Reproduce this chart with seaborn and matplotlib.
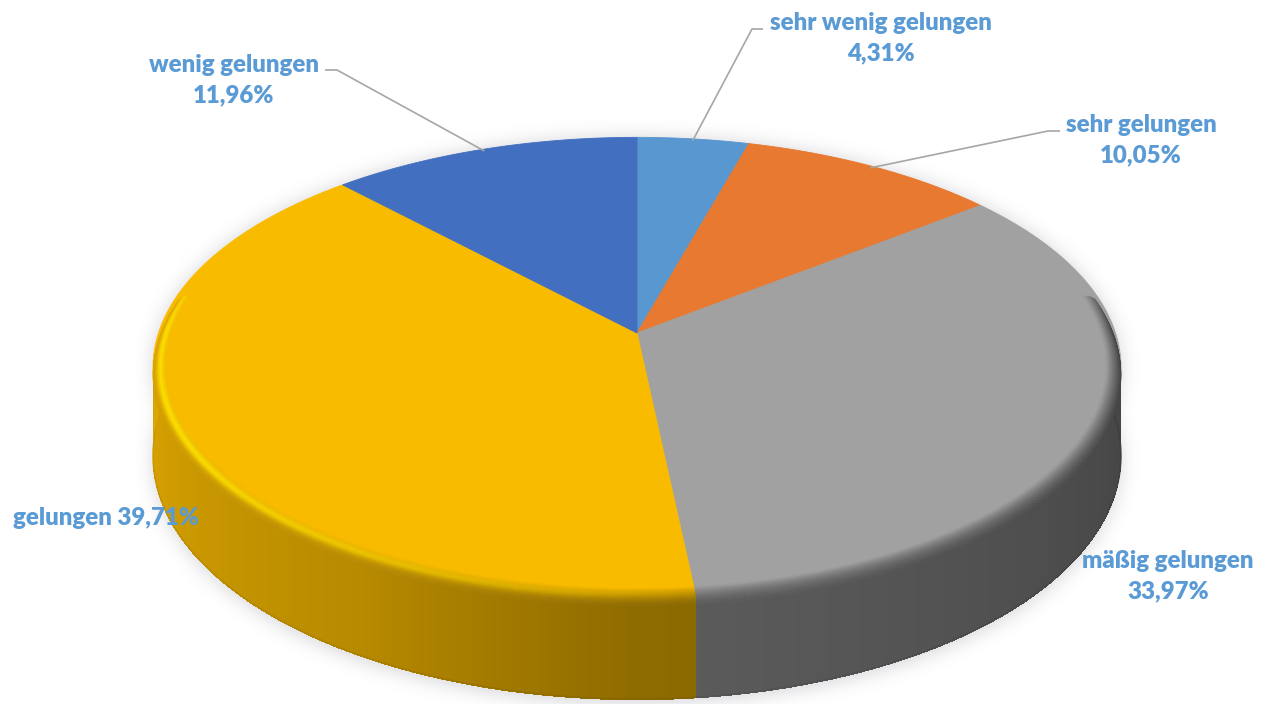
import os
import numpy as np
import matplotlib
matplotlib.use("Agg")
import matplotlib.pyplot as plt
from matplotlib import font_manager as fm
from matplotlib.collections import PolyCollection, LineCollection
from matplotlib.path import Path
from matplotlib.colors import to_rgb
import seaborn as sns

# ---- data -------------------------------------------------------------
categories = ["sehr wenig gelungen", "sehr gelungen", "mäßig gelungen",
              "gelungen", "wenig gelungen"]
shares = [4.31, 10.05, 33.97, 39.71, 11.96]
value_labels = ["4,31%", "10,05%", "33,97%", "39,71%", "11,96%"]
palette = ["#5B9BD5", "#ED7D31", "#A5A5A5", "#FFC000", "#4472C4"]

# ---- layout -----------------------------------------------------------
W, H = 1271, 704
CX, CY = 637.0, 333.0          # projected pie centre
RX, RY = 478.5, 225.0          # disc radii before perspective division
PERSP = -0.15                  # perspective strength (near side larger)
DEPTH = 86.7                   # wall height
BEV_R, BEV_Z = 0.03, 8.0       # rounded top edge: radial / vertical size

label_layout = {
    "sehr wenig gelungen": dict(text=(881, 38), kink=[(763, 29), (752, 29)], one_line=False),
    "sehr gelungen": dict(text=(1141, 140), kink=[(1060, 131), (1048, 131)], one_line=False),
    "mäßig gelungen": dict(text=(1168, 576), kink=None, one_line=False),
    "gelungen": dict(text=(106, 518), kink=None, one_line=True),
    "wenig gelungen": dict(text=(234, 80), kink=[(325, 70), (337, 70)], one_line=False),
}

sns.set_theme(style="white")


def heavy_family(candidates):
    for fam in candidates:
        try:
            p = fm.findfont(fm.FontProperties(family=fam, weight="bold"),
                            fallback_to_default=False)
        except Exception:
            continue
        name = os.path.basename(p).lower()
        if any(w in name for w in ("bold", "heavy", "black")):
            return fam
    return "DejaVu Sans"


LABEL_FONT = heavy_family(["Lato", "Open Sans", "Noto Sans", "Roboto", "Liberation Sans"])
plt.rcParams["font.family"] = [LABEL_FONT, "DejaVu Sans"]

fig = plt.figure(figsize=(W / 100, H / 100), dpi=100)
ax = fig.add_axes([0, 0, 1, 1])
ax.set_xlim(0, W)
ax.set_ylim(H, 0)
ax.axis("off")


def project(theta, r=1.0, drop=0.0):
    """Angle clockwise from the far side of the disc -> screen pixels."""
    X = r * np.sin(theta)
    Y = -r * np.cos(theta)
    w = 1 + PERSP * Y
    return CX + RX * X / w, CY + (RY * Y + drop) / w


def grid_quads(thetas, radii, drops):
    T_, R_ = np.meshgrid(thetas, radii, indexing="ij")
    _, D_ = np.meshgrid(thetas, drops, indexing="ij")
    x, y = project(T_, R_, D_)
    P = np.stack([x, y], -1)
    q = np.stack([P[:-1, :-1], P[1:, :-1], P[1:, 1:], P[:-1, 1:]], axis=2)
    return q.reshape(-1, 4, 2)


def wall_light(theta):
    s = (np.degrees(theta) - 90.0) / 180.0
    return np.interp(s, [0, 0.5, 0.67, 1.0], [0.40, 0.56, 0.72, 0.87])


total = float(np.sum(shares))
bounds = np.concatenate([[0.0], np.cumsum(shares)]) / total * 2 * np.pi
base_rgb = [np.array(to_rgb(c)) for c in palette]
FACE = 0.975
FRONT = (np.radians(80), np.radians(280))

# ---- soft drop shadow -------------------------------------------------
tt = np.linspace(0, 2 * np.pi, 400)
gx, gy = np.meshgrid(np.arange(W) + 0.5, np.arange(H) + 0.5)
pts = np.column_stack([gx.ravel(), gy.ravel()])
mask = np.zeros(W * H, bool)
for drop in (0.0, DEPTH + 3):
    bx, by = project(tt, 1.0, drop)
    mask |= Path(np.column_stack([bx, by])).contains_points(pts)
mask = mask.reshape(H, W).astype(float)
sig = 9.0
k = np.exp(-0.5 * (np.arange(-30, 31) / sig) ** 2)
k /= k.sum()
blur = np.apply_along_axis(lambda m: np.convolve(m, k, mode="same"), 1, mask)
blur = np.apply_along_axis(lambda m: np.convolve(m, k, mode="same"), 0, blur)
shadow = np.zeros((H, W, 4))
shadow[..., :3] = (0.42, 0.42, 0.48)
shadow[..., 3] = blur * 0.28
ax.imshow(shadow, extent=(0, W, H, 0), zorder=0, interpolation="bilinear")

# ---- walls (front half only) -----------------------------------------
for a0, a1, rgb in zip(bounds[:-1], bounds[1:], base_rgb):
    lo, hi = max(a0, FRONT[0]), min(a1, FRONT[1])
    if hi <= lo:
        continue
    th = np.linspace(lo, hi, max(3, int(np.degrees(hi - lo) / 0.5)))
    mid = 0.5 * (th[:-1] + th[1:])
    cols = np.clip(rgb[None, :] * wall_light(mid)[:, None], 0, 1)
    # antialiased outline underneath, hard-edged gradient strips on top
    tx, ty = project(th, 1.0, BEV_Z)
    bx, by = project(th[::-1], 1.0, DEPTH)
    edge_col = cols[len(cols) // 2]
    ax.fill(np.concatenate([tx, bx]), np.concatenate([ty, by]),
            facecolor=edge_col, edgecolor="none", zorder=1)
    quads = grid_quads(th, [1.0, 1.0], [BEV_Z, DEPTH])
    ax.add_collection(PolyCollection(quads, facecolors=cols, edgecolors="none",
                                     antialiaseds=False, zorder=1.1))
    # smooth bottom rim in local shade
    bx2, by2 = project(th, 1.0, DEPTH - 0.6)
    segs = np.stack([np.column_stack([bx2[:-1], by2[:-1]]),
                     np.column_stack([bx2[1:], by2[1:]])], axis=1)
    ax.add_collection(LineCollection(segs, colors=cols * 0.92, linewidths=1.0,
                                     zorder=1.2))

# ---- top faces --------------------------------------------------------
for a0, a1, rgb in zip(bounds[:-1], bounds[1:], base_rgb):
    th = np.linspace(a0, a1, 200)
    ex, ey = project(th)
    xs = np.concatenate([[CX], ex])
    ys = np.concatenate([[CY], ey])
    col = np.clip(rgb * FACE, 0, 1)
    ax.fill(xs, ys, facecolor=col, edgecolor=col, linewidth=0.6, zorder=2)

# ---- rounded front edge ----------------------------------------------
phi = np.linspace(0, np.pi / 2, 11)
radii = 1 - BEV_R + BEV_R * np.sin(phi)
drops = BEV_Z * (1 - np.cos(phi))
phi_mid = 0.5 * (phi[:-1] + phi[1:])
for a0, a1, rgb in zip(bounds[:-1], bounds[1:], base_rgb):
    lo, hi = max(a0, FRONT[0]), min(a1, FRONT[1])
    if hi <= lo:
        continue
    th = np.linspace(lo, hi, max(3, int(np.degrees(hi - lo) / 0.4)))
    quads = grid_quads(th, radii, drops)
    mid = 0.5 * (th[:-1] + th[1:])
    Ym = -np.cos(mid)
    wgt = np.clip((Ym + 0.45) / 0.45, 0, 1)
    wgt = wgt * wgt * (3 - 2 * wgt)
    lit = np.clip((np.degrees(mid) - 170) / 70, 0, 1)
    s = np.sin(phi_mid)[None, :]
    bright = (1 - s) * FACE + s * wall_light(mid)[:, None]
    bright = FACE + (bright - FACE) * wgt[:, None]
    col = rgb[None, None, :] * bright[..., None]
    spec = (np.exp(-((phi_mid - 0.55) / 0.28) ** 2)[None, :]
            * lit[:, None] * wgt[:, None] * 0.85)
    hl = np.clip(rgb * 1.2, 0, 1)
    col = col + spec[..., None] * (hl[None, None, :] - col)
    col = np.clip(col, 0, 1).reshape(-1, 3)
    ax.add_collection(PolyCollection(quads, facecolors=col, edgecolors=col,
                                     linewidths=0.4, zorder=3))

# ---- labels and leader lines -----------------------------------------
mids = 0.5 * (bounds[:-1] + bounds[1:])
for name, val, m in zip(categories, value_labels, mids):
    lay = label_layout[name]
    txt = f"{name} {val}" if lay["one_line"] else f"{name}\n{val}"
    ax.text(*lay["text"], txt, ha="center", va="center", fontsize=17.3,
            fontweight="heavy", color="#5B9BD5", linespacing=1.5, zorder=5)
    if lay["kink"]:
        px, py = project(m, 0.99)
        xs = [p[0] for p in lay["kink"]] + [px]
        ys = [p[1] for p in lay["kink"]] + [py]
        ax.plot(xs, ys, color="#A6A6A6", lw=1.2, zorder=4,
                solid_capstyle="butt")

fig.savefig("out.png", dpi=100)
